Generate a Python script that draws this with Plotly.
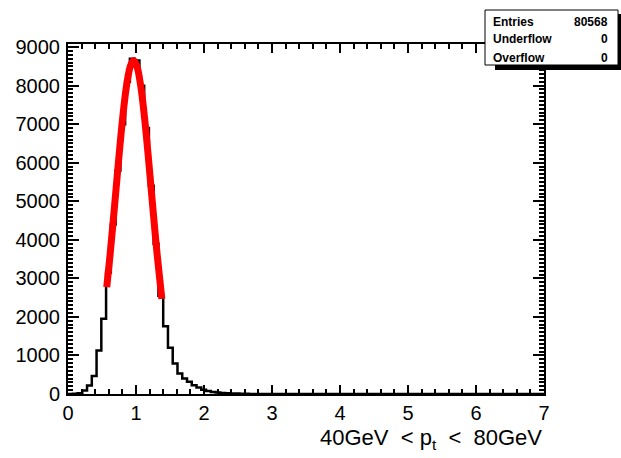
import numpy as np
import plotly.graph_objects as go

# ---------------- data ----------------
bin_low = 0.0
bin_width = 0.07
counts = [0, 5, 20, 90, 220, 470, 1130, 1950, 3150, 4400,
          5800, 7000, 8100, 8700, 8650, 8000, 6900, 5400, 3900, 2550,
          1755, 1200, 790, 530, 400, 315, 230, 170, 110, 80,
          55, 40, 28, 20, 14, 10, 7, 5, 3, 2,
          2, 1, 1, 0, 0, 0, 0, 0, 0, 0,
          0, 0, 0, 0, 0, 0, 0, 0, 0, 0,
          0, 0, 0, 0, 0, 0, 0, 0, 0, 0,
          0, 0, 0, 0, 0, 0, 0, 0, 0, 0,
          0, 0, 0, 0, 0, 0, 0, 0, 0, 0,
          0, 0, 0, 0, 0, 0, 0, 0, 0, 0]

fit_x = [0.57, 0.62, 0.68, 0.74, 0.80, 0.86, 0.92, 0.965, 1.01, 1.07, 1.13, 1.19, 1.25, 1.31, 1.38]
fit_y = [2775, 3635, 4785, 5980, 7095, 7985, 8520, 8650, 8520, 7985, 7095, 5980, 4785, 3635, 2465]

stats_labels = ["Entries", "Underflow", "Overflow"]
stats_values = ["80568", "0", "0"]

x_title = "40GeV&nbsp;&nbsp;&lt;&nbsp;p<sub>t</sub>&nbsp;&nbsp;&lt;&nbsp;&nbsp;80GeV"

# ---------------- geometry helpers ----------------
W, H = 621, 458
L, R, T, B = 68, 544, 44, 394


def px(xp):
    return (xp - L) / (R - L)


def py(yp):
    return (B - yp) / (B - T)


edges = bin_low + bin_width * np.arange(len(counts) + 1)
step_x = list(edges)
step_y = list(counts) + [counts[-1]]

fig = go.Figure()
fig.add_trace(go.Scatter(x=step_x, y=step_y, mode="lines",
                         line=dict(color="black", width=2.5, shape="hv"),
                         hoverinfo="skip", showlegend=False))
fig.add_trace(go.Scatter(x=fit_x, y=fit_y, mode="lines",
                         line=dict(color="#ff0000", width=7, shape="spline"),
                         hoverinfo="skip", showlegend=False))

font_family = "Liberation Sans, Arial, Helvetica, sans-serif"

fig.update_layout(
    width=W, height=H,
    margin=dict(l=L, r=W - R, t=T, b=H - B, pad=0),
    paper_bgcolor="white", plot_bgcolor="white",
    font=dict(family=font_family, color="black", size=20),
    showlegend=False,
    xaxis=dict(range=[0, 7], showgrid=False, zeroline=False,
               showline=True, linecolor="black", linewidth=2, mirror="allticks",
               ticks="inside", ticklen=9, tickwidth=2, tickcolor="black",
               dtick=1, tick0=0, tickfont=dict(size=20),
               minor=dict(ticks="inside", dtick=0.2, ticklen=5, tickwidth=2, tickcolor="black", showgrid=False)),
    yaxis=dict(range=[0, 9080], showgrid=False, zeroline=False,
               showline=True, linecolor="black", linewidth=2, mirror="allticks",
               ticks="inside", ticklen=11, tickwidth=2, tickcolor="black",
               dtick=1000, tick0=0, tickfont=dict(size=20), ticklabelstandoff=2,
               minor=dict(ticks="inside", dtick=100, ticklen=5, tickwidth=2, tickcolor="black", showgrid=False)),
)

# x-axis title, right aligned
fig.add_annotation(x=px(544), y=py(439), xref="paper", yref="paper",
                   xanchor="right", yanchor="middle", showarrow=False,
                   text=x_title, font=dict(size=22, family=font_family, color="black"))

# stats box with shadow
fig.add_shape(type="rect", xref="paper", yref="paper",
              x0=px(495), x1=px(623), y0=py(70), y1=py(14),
              fillcolor="black", line=dict(width=0), layer="above")
fig.add_shape(type="rect", xref="paper", yref="paper",
              x0=px(485), x1=px(618), y0=py(65), y1=py(10),
              fillcolor="white", line=dict(color="black", width=1), layer="above")

row_y = [21.5, 39.5, 58]
for lab, val, yy in zip(stats_labels, stats_values, row_y):
    fig.add_annotation(x=px(491), y=py(yy), xref="paper", yref="paper",
                       xanchor="left", yanchor="middle", showarrow=False,
                       text="<b>" + lab + "</b>", font=dict(size=12, family=font_family, color="black"))
    fig.add_annotation(x=px(610), y=py(yy), xref="paper", yref="paper",
                       xanchor="right", yanchor="middle", showarrow=False,
                       text="<b>" + val + "</b>", font=dict(size=12, family=font_family, color="black"))

fig.write_html("out.html")
